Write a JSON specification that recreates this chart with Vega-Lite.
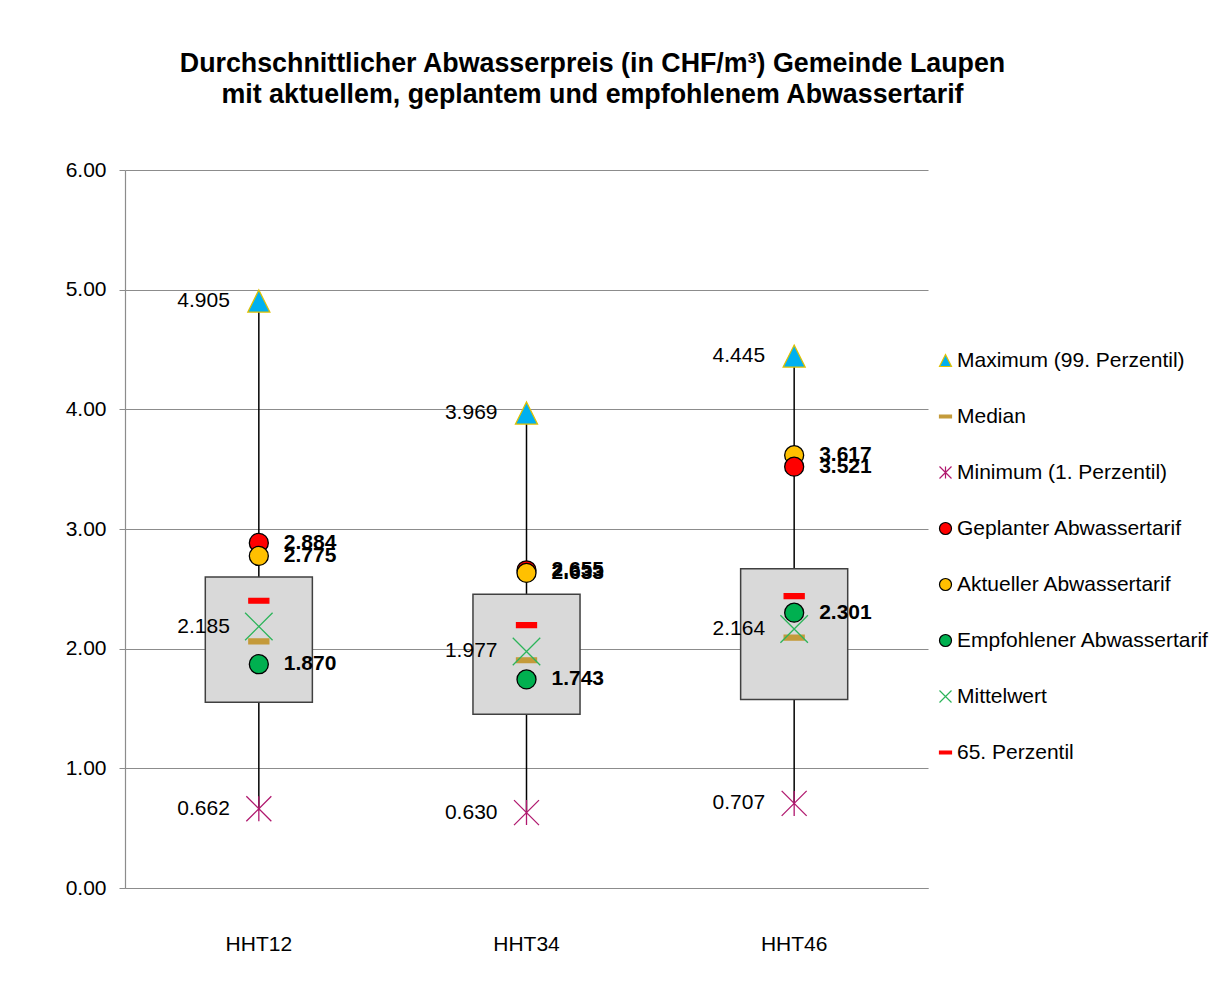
{
  "$schema": "https://vega.github.io/schema/vega-lite/v6.json",
  "width": 803,
  "height": 718,
  "autosize": {"type": "none"},
  "padding": {"left": 125, "top": 170, "right": 286, "bottom": 102},
  "background": "white",
  "config": {
    "font": "Liberation Sans",
    "view": {"stroke": null},
    "axisY": {"domainColor": "#8c8c8c", "tickColor": "#8c8c8c", "tickSize": 6, "labelFontSize": 21, "labelPadding": 13, "gridColor": "#8c8c8c", "labelColor": "black", "grid": true, "domainWidth": 1.2, "gridWidth": 1.2},
    "axisX": {"grid": false, "ticks": false, "domainColor": "#8c8c8c", "labelFontSize": 21, "labelPadding": 45, "labelAngle": 0, "labelColor": "black", "domainWidth": 1.2},
    "legend": {"labelFontSize": 21, "labelColor": "black", "symbolSize": 144, "rowPadding": 34, "labelOffset": 1, "labelLimit": 400, "symbolStrokeWidth": 1.2, "padding": 0}
  },
  "title": {
    "text": ["Durchschnittlicher Abwasserpreis (in CHF/m³) Gemeinde Laupen", "mit aktuellem, geplantem und empfohlenem Abwassertarif"],
    "fontSize": 26.8,
    "fontWeight": "bold",
    "color": "black",
    "anchor": "middle",
    "frame": "group",
    "dx": 66,
    "offset": 50,
    "lineHeight": 31
  },
  "datasets": {
    "boxes": [
      {"cat": "HHT12", "q1": 1.552, "q3": 2.598, "min": 0.662, "max": 4.905},
      {"cat": "HHT34", "q1": 1.451, "q3": 2.455, "min": 0.630, "max": 3.969},
      {"cat": "HHT46", "q1": 1.575, "q3": 2.668, "min": 0.707, "max": 4.445}
    ],
    "points": [
      {"cat": "HHT12", "series": "Maximum (99. Perzentil)", "value": 4.905},
      {"cat": "HHT12", "series": "Median", "value": 2.061},
      {"cat": "HHT12", "series": "Minimum (1. Perzentil)", "value": 0.662},
      {"cat": "HHT12", "series": "Geplanter Abwassertarif", "value": 2.884},
      {"cat": "HHT12", "series": "Aktueller Abwassertarif", "value": 2.775},
      {"cat": "HHT12", "series": "Empfohlener Abwassertarif", "value": 1.870},
      {"cat": "HHT12", "series": "Mittelwert", "value": 2.185},
      {"cat": "HHT12", "series": "65. Perzentil", "value": 2.401},
      {"cat": "HHT34", "series": "Maximum (99. Perzentil)", "value": 3.969},
      {"cat": "HHT34", "series": "Median", "value": 1.903},
      {"cat": "HHT34", "series": "Minimum (1. Perzentil)", "value": 0.630},
      {"cat": "HHT34", "series": "Geplanter Abwassertarif", "value": 2.655},
      {"cat": "HHT34", "series": "Aktueller Abwassertarif", "value": 2.633},
      {"cat": "HHT34", "series": "Empfohlener Abwassertarif", "value": 1.743},
      {"cat": "HHT34", "series": "Mittelwert", "value": 1.977},
      {"cat": "HHT34", "series": "65. Perzentil", "value": 2.197},
      {"cat": "HHT46", "series": "Maximum (99. Perzentil)", "value": 4.445},
      {"cat": "HHT46", "series": "Median", "value": 2.092},
      {"cat": "HHT46", "series": "Minimum (1. Perzentil)", "value": 0.707},
      {"cat": "HHT46", "series": "Aktueller Abwassertarif", "value": 3.617},
      {"cat": "HHT46", "series": "Geplanter Abwassertarif", "value": 3.521},
      {"cat": "HHT46", "series": "Empfohlener Abwassertarif", "value": 2.301},
      {"cat": "HHT46", "series": "Mittelwert", "value": 2.164},
      {"cat": "HHT46", "series": "65. Perzentil", "value": 2.439}
    ]
  },
  "encoding": {
    "x": {"field": "cat", "type": "nominal", "title": null, "scale": {"paddingInner": 0, "paddingOuter": 0}}
  },
  "layer": [
    {
      "data": {"name": "boxes"},
      "mark": {"type": "rule", "color": "black", "strokeWidth": 1.5},
      "encoding": {
        "y": {"field": "min", "type": "quantitative", "title": null, "scale": {"domain": [0, 6], "nice": false}, "axis": {"values": [0, 1, 2, 3, 4, 5, 6], "format": ".2f"}},
        "y2": {"field": "max"}
      }
    },
    {
      "data": {"name": "boxes"},
      "mark": {"type": "bar", "fill": "#d9d9d9", "stroke": "#404040", "strokeWidth": 1.5, "width": {"band": 0.4}},
      "encoding": {
        "y": {"field": "q1", "type": "quantitative", "title": null, "axis": {"values": [0, 1, 2, 3, 4, 5, 6], "format": ".2f"}},
        "y2": {"field": "q3"}
      }
    },
    {
      "data": {"name": "points"},
      "mark": {"type": "point", "filled": true, "opacity": 1, "strokeWidth": 1.3},
      "encoding": {
        "y": {"field": "value", "type": "quantitative", "title": null, "axis": {"values": [0, 1, 2, 3, 4, 5, 6], "format": ".2f"}},
        "shape": {
          "field": "series", "type": "nominal",
          "scale": {
            "domain": ["Maximum (99. Perzentil)", "Median", "Minimum (1. Perzentil)", "Geplanter Abwassertarif", "Aktueller Abwassertarif", "Empfohlener Abwassertarif", "Mittelwert", "65. Perzentil"],
            "range": ["M0,-1L1,1L-1,1Z", "M-1,-0.24H1V0.24H-1Z", "M-1,-1L1,1M-1,1L1,-1M0,-1V1", "circle", "circle", "circle", "M-1,-1L1,1M-1,1L1,-1", "M-1,-0.24H1V0.24H-1Z"]
          },
          "legend": {"orient": "none", "legendX": 810, "legendY": 180, "title": null}
        },
        "fill": {
          "field": "series", "type": "nominal",
          "scale": {
            "domain": ["Maximum (99. Perzentil)", "Median", "Minimum (1. Perzentil)", "Geplanter Abwassertarif", "Aktueller Abwassertarif", "Empfohlener Abwassertarif", "Mittelwert", "65. Perzentil"],
            "range": ["#00b0f0", "#c49a3a", "transparent", "#ff0000", "#ffc000", "#00b050", "transparent", "#ff0000"]
          },
          "legend": {"orient": "none", "legendX": 810, "legendY": 180, "title": null}
        },
        "stroke": {
          "field": "series", "type": "nominal",
          "scale": {
            "domain": ["Maximum (99. Perzentil)", "Median", "Minimum (1. Perzentil)", "Geplanter Abwassertarif", "Aktueller Abwassertarif", "Empfohlener Abwassertarif", "Mittelwert", "65. Perzentil"],
            "range": ["#e0c000", "#c49a3a", "#b0186e", "#000000", "#000000", "#000000", "#2cb45a", "#ff0000"]
          },
          "legend": {"orient": "none", "legendX": 810, "legendY": 180, "title": null}
        },
        "size": {
          "field": "series", "type": "nominal",
          "scale": {
            "type": "ordinal",
            "range": [400, 361, 361, 361, 484, 400, 625, 756]
          },
          "legend": null
        }
      }
    },
    {
      "data": {"name": "points"},
      "transform": [{"filter": {"field": "series", "oneOf": ["Maximum (99. Perzentil)", "Minimum (1. Perzentil)", "Mittelwert"]}}],
      "mark": {"type": "text", "align": "right", "baseline": "middle", "dx": -29, "fontSize": 21, "color": "black"},
      "encoding": {
        "y": {"field": "value", "type": "quantitative", "title": null, "axis": {"values": [0, 1, 2, 3, 4, 5, 6], "format": ".2f"}},
        "text": {"field": "value", "type": "quantitative", "format": ".3f"}
      }
    },
    {
      "data": {"name": "points"},
      "transform": [{"filter": {"field": "series", "oneOf": ["Geplanter Abwassertarif", "Aktueller Abwassertarif", "Empfohlener Abwassertarif"]}}],
      "mark": {"type": "text", "align": "left", "baseline": "middle", "dx": 25, "fontSize": 21, "fontWeight": "bold", "color": "black"},
      "encoding": {
        "y": {"field": "value", "type": "quantitative", "title": null, "axis": {"values": [0, 1, 2, 3, 4, 5, 6], "format": ".2f"}},
        "text": {"field": "value", "type": "quantitative", "format": ".3f"}
      }
    }
  ]
}
